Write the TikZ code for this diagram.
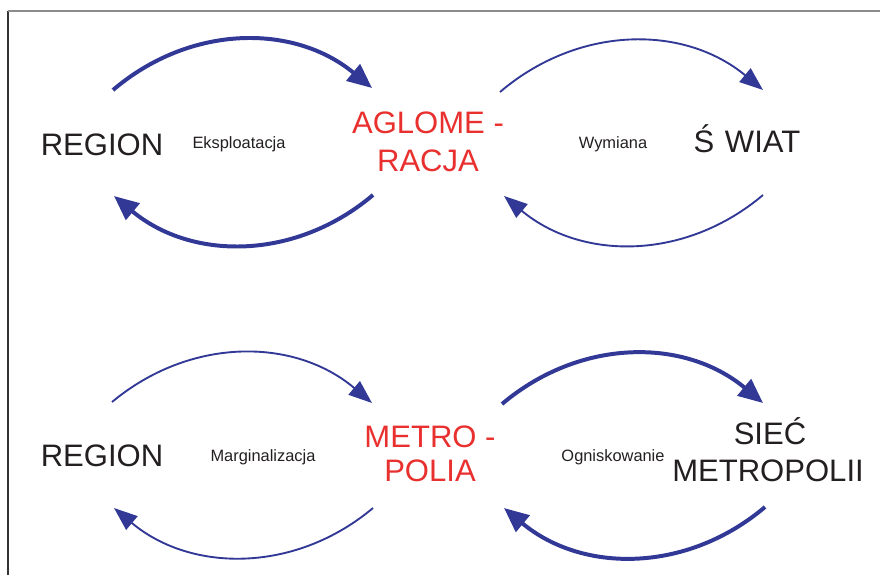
\documentclass[tikz,border=0pt]{standalone}
\usepackage{fontspec}
\setmainfont{Liberation Sans}
\usetikzlibrary{arrows.meta}
\definecolor{arcblue}{RGB}{50,56,150}
\definecolor{namered}{RGB}{232,48,46}
\definecolor{inkblack}{RGB}{35,31,32}

\begin{document}
\begin{tikzpicture}[x=0.03cm,y=0.03cm,
    bigname/.style={anchor=base,inner sep=0pt,text=inkblack,font=\fontsize{26.5}{30}\selectfont},
    cityname/.style={bigname,text=namered},
    flowname/.style={anchor=base,inner sep=0pt,text=inkblack,font=\fontsize{14}{16}\selectfont},
    thickarc/.style={draw=arcblue,line width=3.4pt,-{Triangle[length=21pt,width=18pt]}},
    thinarc/.style={draw=arcblue,line width=1.6pt,-{Triangle[length=20pt,width=15pt]}}]
    \useasboundingbox (0,0) rectangle (880,-575);
    \draw[line width=1.2pt,black!80] (8,-575) -- (8,-11);
    \draw[line width=1.2pt,black!45] (8,-11) -- (880,-11);

    \node [bigname] (regtop) at (102,-155) {REGION};
    \node [flowname] (eksp) at (239,-148) {Eksploatacja};
    \node [cityname] (aglo) at (428,-133) {AGLOME -};
    \node [cityname] (racja) at (428,-171) {RACJA};
    \node [flowname] (wymi) at (613,-148) {Wymiana};
    \node [bigname] (swiat) at (747,-152) {Ś\kern9pt WIAT};

    \node [bigname] (regbot) at (102,-466) {REGION};
    \node [flowname] (marg) at (263,-461) {Marginalizacja};
    \node [cityname] (metro) at (430,-447) {METRO -};
    \node [cityname] (polia) at (430,-481) {POLIA};
    \node [flowname] (ogni) at (613,-461) {Ogniskowanie};
    \node [bigname] (siec) at (770,-444) {SIEĆ};
    \node [bigname] (metpol) at (768,-481) {METROPOLII};

    \coordinate (a1) at (113,-90);  \coordinate (a2) at (372,-88);
    \coordinate (b1) at (373,-195); \coordinate (b2) at (114,-196);
    \coordinate (c1) at (500,-92);  \coordinate (c2) at (763,-90);
    \coordinate (d1) at (763,-195); \coordinate (d2) at (504,-196);
    \coordinate (e1) at (112,-402); \coordinate (e2) at (372,-403);
    \coordinate (f1) at (373,-508); \coordinate (f2) at (114,-508);
    \coordinate (g1) at (502,-404); \coordinate (g2) at (763,-403);
    \coordinate (h1) at (765,-507); \coordinate (h2) at (504,-508);

    \foreach \p/\q/\s in {a1/a2/thickarc,b1/b2/thickarc,c1/c2/thinarc,d1/d2/thinarc,
                          e1/e2/thinarc,f1/f2/thinarc,g1/g2/thickarc,h1/h2/thickarc}
    {
        \draw [\s] (\p) to[bend left=40] (\q);
    }
\end{tikzpicture}
\end{document}
